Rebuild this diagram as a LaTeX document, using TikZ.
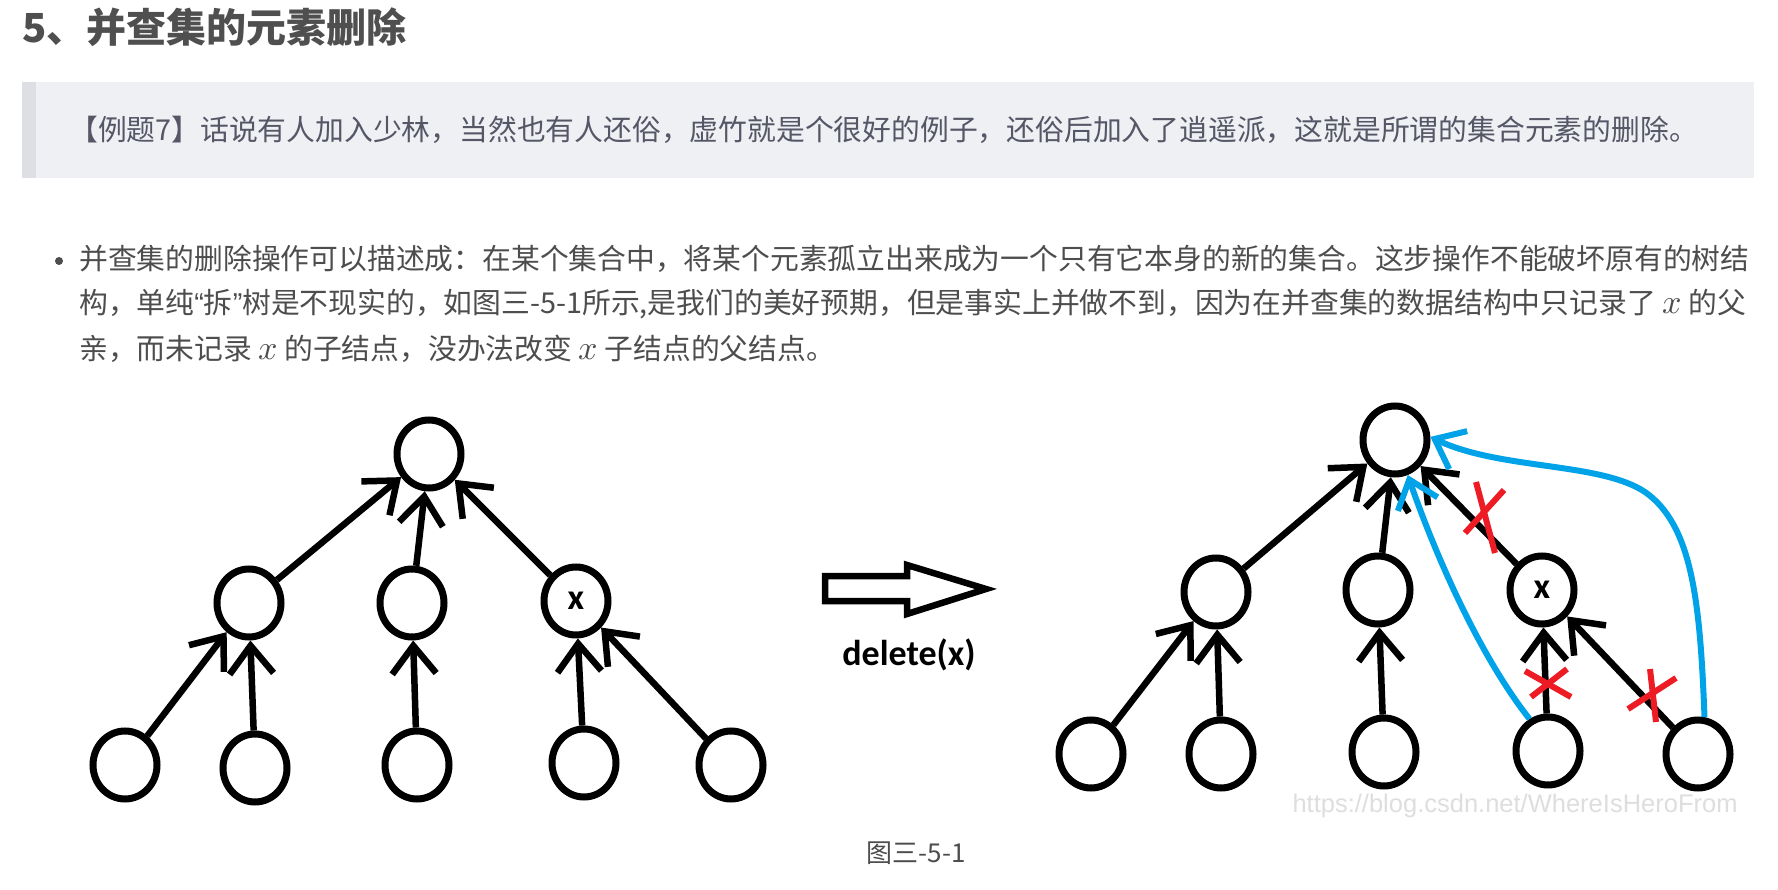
\documentclass[tikz,border=0pt]{standalone}
\usepackage{fontspec}
\newfontfamily\cjk{Noto Sans CJK SC}
\newfontfamily\carl{Carlito}
\newfontfamily\libs{Liberation Sans}
\newfontfamily\lmmath{Latin Modern Math}
\usetikzlibrary{arrows.meta,shapes.geometric}
\definecolor{hdr}{HTML}{4F4F4F}
\definecolor{txt}{HTML}{4D4D4D}
\definecolor{qtxt}{HTML}{555666}
\definecolor{qbg}{HTML}{EEF0F4}
\definecolor{qbar}{HTML}{DDDFE4}
\definecolor{pblue}{HTML}{00A2E8}
\definecolor{pred}{HTML}{ED1C24}
\newcommand\varxx{{\lmmath\fontsize{34}{34}\selectfont 𝑥}}
\begin{document}
\begin{tikzpicture}[x=1pt,y=-1pt,
  vert/.style={ellipse,draw=black,line width=7pt,minimum width=64pt,minimum height=68pt,inner sep=0pt,
    font=\carl\bfseries\fontsize{36}{36}\selectfont},
  tedge/.style={line width=6.5pt,-{Straight Barb[length=28pt,width=44pt]}},
  bedge/.style={draw=pblue,line width=6pt,-{Straight Barb[length=26pt,width=42pt]}},
  rmark/.style={draw=pred,line width=6pt},
  body/.style={anchor=west,inner sep=0pt,text=txt,font=\cjk\fontsize{28.8}{34}\selectfont}]
\useasboundingbox (0,0) rectangle (1778,890);
\fill[white] (0,0) rectangle (1778,890);
% header
\node[anchor=west,inner sep=0pt,text=hdr,font=\cjk\bfseries\fontsize{40}{48}\selectfont] (title) at (22,27) {5、并查集的元素删除};
% quote
\fill[qbg] (22,82) rectangle (1754,178);
\fill[qbar] (22,82) rectangle (36,178);
\node[anchor=west,inner sep=0pt,text=qtxt,font=\cjk\fontsize{28.8}{34}\selectfont] (quote) at (69,130) {【例题7】话说有人加入少林，当然也有人还俗，虚竹就是个很好的例子，还俗后加入了逍遥派，这就是所谓的集合元素的删除。};
% bullet paragraph
\fill[txt] (59,261) circle (4);
\node[body] (l1) at (79,259) {并查集的删除操作可以描述成：在某个集合中，将某个元素孤立出来成为一个只有它本身的新的集合。这步操作不能破坏原有的树结};
\node[body] (l2) at (79,304) {构，单纯{\libs “}拆{\libs ”}树是不现实的，如图三-5-1所示,是我们的美好预期，但是事实上并做不到，因为在并查集的数据结构中只记录了 \varxx{} 的父};
\node[body] (l3) at (79,349) {亲，而未记录 \varxx{} 的子结点，没办法改变 \varxx{} 子结点的父结点。};
% watermark (behind the drawing)
\node[text=black!13,font=\libs\fontsize{25.5}{25.5}\selectfont] (wm) at (1515,806) {https://blog.csdn.net/WhereIsHeroFrom};
% left tree
\node[vert] (lr) at (429,454) {};
\node[vert] (la) at (249,603) {};
\node[vert] (lb) at (412,603) {};
\node[vert] (lc) at (576,601) {x};
\node[vert] (l1a) at (125,765) {};
\node[vert] (l1b) at (255,768) {};
\node[vert] (l1c) at (417,765) {};
\node[vert] (l1d) at (584,763) {};
\node[vert] (l1e) at (731,765) {};
\draw[tedge] (la) -- (lr);
\draw[tedge] (lb) -- (lr);
\draw[tedge] (lc) -- (lr);
\draw[tedge] (l1a) -- (la);
\draw[tedge] (l1b) -- (la);
\draw[tedge] (l1c) -- (lb);
\draw[tedge] (l1d) -- (lc);
\draw[tedge] (l1e) -- (lc);
% big hollow arrow
\draw[line width=6.5pt,line join=miter,miter limit=10] (825,576) -- (907,576) -- (907,565) -- (986,589) -- (907,614) -- (907,601) -- (825,601) -- cycle;
\node[font=\carl\bfseries\fontsize{36}{36}\selectfont] (del) at (909,655) {delete(x)};
% right tree
\node[vert] (rr) at (1395,440) {};
\node[vert] (ra) at (1216,592) {};
\node[vert] (rb) at (1378,590) {};
\node[vert] (rc) at (1542,590) {x};
\node[vert] (r1a) at (1091,754) {};
\node[vert] (r1b) at (1221,754) {};
\node[vert] (r1c) at (1384,752) {};
\node[vert] (r1d) at (1548,751) {};
\node[vert] (r1e) at (1698,754) {};
\draw[tedge] (ra) -- (rr);
\draw[tedge] (rb) -- (rr);
\draw[tedge] (rc) -- (rr);
\draw[tedge] (r1a) -- (ra);
\draw[tedge] (r1b) -- (ra);
\draw[tedge] (r1c) -- (rb);
\draw[tedge] (r1d) -- (rc);
\draw[tedge] (r1e) -- (rc);
% blue re-links
\draw[bedge] (r1d.120) .. controls (1475,650) and (1430,540) .. (rr.-70);
\draw[bedge] (r1e.80) .. controls (1700,600) and (1692,525) .. (1645,492) .. controls (1600,462) and (1500,470) .. (rr.5);
% red crosses
\draw[rmark] (1476,482) -- (1495,553);
\draw[rmark] (1504,490) -- (1465,533);
\draw[rmark] (1525,671) -- (1571,697);
\draw[rmark] (1567,669) -- (1531,697);
\draw[rmark] (1628,709) -- (1676,678);
\draw[rmark] (1650,669) -- (1656,722);
% caption
\node[text=txt,font=\cjk\fontsize{26}{30}\selectfont] (cap) at (916,853) {图三-5-1};
\end{tikzpicture}
\end{document}
